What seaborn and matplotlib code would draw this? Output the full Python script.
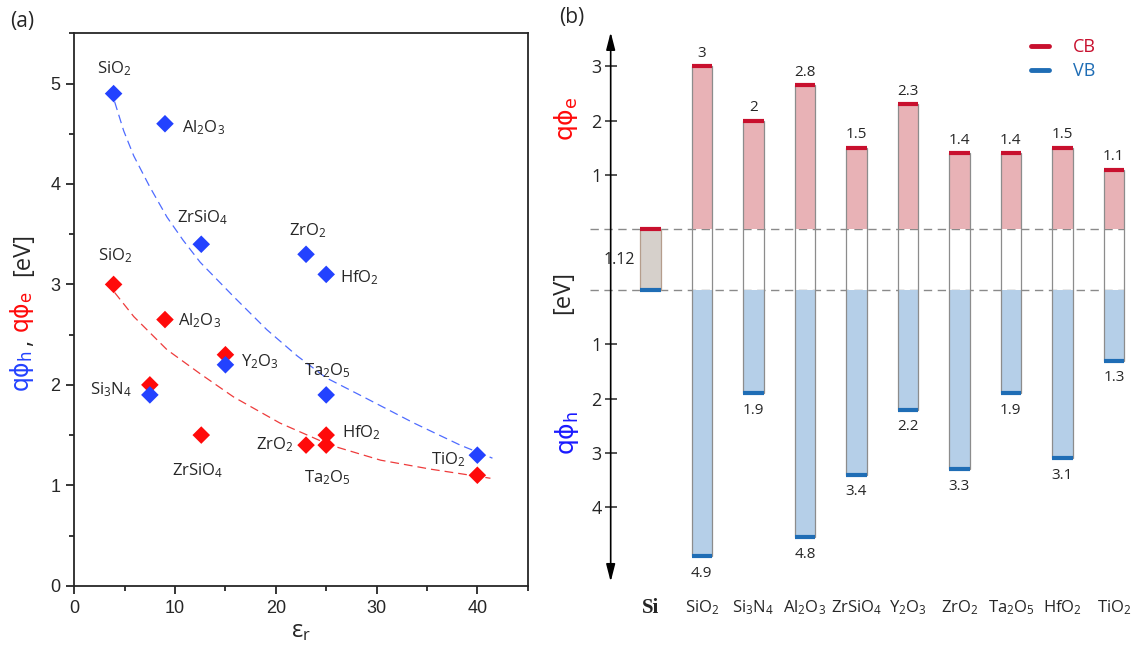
import re
import matplotlib
matplotlib.use('Agg')
import matplotlib.pyplot as plt
from matplotlib.lines import Line2D
from matplotlib.ticker import MultipleLocator
import numpy as np
import pandas as pd
import seaborn as sns

# ---- panel (a): barrier height vs dielectric constant ----
oxides_a = ['SiO2', 'Al2O3', 'ZrSiO4', 'ZrO2', 'HfO2', 'Y2O3', 'Si3N4', 'Ta2O5', 'TiO2']
eps_r = [3.9, 9.0, 12.6, 23.0, 25.0, 15.0, 7.5, 25.0, 40.0]
phi_h = [4.9, 4.6, 3.4, 3.3, 3.1, 2.2, 1.9, 1.9, 1.3]
phi_e = [3.0, 2.65, 1.5, 1.4, 1.5, 2.3, 2.0, 1.4, 1.1]

# dashed trend curves
fit_h_eps = [4.0, 4.9, 5.9, 7.5, 9.2, 10.8, 12.5, 15.8, 19.1, 22.1, 25.0, 28.7, 33.7, 38.3, 41.5]
fit_h_val = [4.82, 4.53, 4.28, 3.97, 3.67, 3.44, 3.22, 2.88, 2.55, 2.29, 2.07, 1.88, 1.62, 1.40, 1.27]
fit_e_eps = [4.0, 5.9, 9.2, 12.5, 15.8, 20.4, 25.4, 30.4, 35.4, 41.3]
fit_e_val = [2.92, 2.68, 2.35, 2.11, 1.88, 1.62, 1.40, 1.25, 1.16, 1.07]

# ---- panel (b): band offsets to Si ----
materials = ['Si', 'SiO2', 'Si3N4', 'Al2O3', 'ZrSiO4', 'Y2O3', 'ZrO2', 'Ta2O5', 'HfO2', 'TiO2']
si_gap = 1.12
cb_offset = [3.0, 2.0, 2.65, 1.5, 2.3, 1.4, 1.4, 1.5, 1.1]
cb_labels = ['3', '2', '2.8', '1.5', '2.3', '1.4', '1.4', '1.5', '1.1']
vb_offset = [4.9, 1.9, 4.55, 3.4, 2.2, 3.3, 1.9, 3.1, 1.3]
vb_labels = ['4.9', '1.9', '4.8', '3.4', '2.2', '3.3', '1.9', '3.1', '1.3']

BLUE = '#2342ff'
RED = '#ff0a0a'
CB_FILL, CB_LINE = '#e8b2b6', '#c8102e'
VB_FILL, VB_LINE = '#b5cfe8', '#1f6db5'
PHI_FONT = ['DejaVu Sans']


def chem(s):
    return re.sub(r'(\d)', r'$_\\mathregular{\1}$', s)


def qphi(sub):
    return 'qϕ$_\\mathregular{' + sub + '}$'


sns.set_style('ticks')
plt.rcParams['font.family'] = ['Open Sans', 'DejaVu Sans']
plt.rcParams['mathtext.fontset'] = 'custom'
plt.rcParams['mathtext.rm'] = 'Open Sans'
plt.rcParams['mathtext.it'] = 'Open Sans:italic'
plt.rcParams['mathtext.bf'] = 'Open Sans:bold'

fig = plt.figure(figsize=(11.43, 6.59), dpi=100)

# ================= (a) =================
ax = fig.add_axes([0.065, 0.1112, 0.3967, 0.8382])
df = pd.DataFrame({
    'eps': eps_r + eps_r,
    'phi': phi_e + phi_h,
    'kind': ['e'] * len(eps_r) + ['h'] * len(eps_r),
})
sns.lineplot(x=fit_h_eps, y=fit_h_val, ax=ax, color='#4f6cff', lw=0.9,
             linestyle=(0, (7, 4)), zorder=1)
sns.lineplot(x=fit_e_eps, y=fit_e_val, ax=ax, color='#ee3b3b', lw=0.9,
             linestyle=(0, (7, 4)), zorder=1)
sns.scatterplot(data=df, x='eps', y='phi', hue='kind', palette={'e': RED, 'h': BLUE},
                marker='D', s=80, linewidth=0, legend=False, ax=ax, zorder=3)

# label anchors (x, y, ha) for each point
lab_h = [(4.0, 5.15, 'center'), (10.7, 4.56, 'left'), (12.7, 3.66, 'center'),
         (23.2, 3.54, 'center'), (26.4, 3.07, 'left'), None, None,
         (25.1, 2.14, 'center'), (38.8, 1.26, 'right')]
lab_e = [(4.05, 3.29, 'center'), (10.3, 2.64, 'left'), (12.2, 1.15, 'center'),
         (21.8, 1.40, 'right'), (26.6, 1.52, 'left'), (16.5, 2.23, 'left'),
         (5.7, 1.95, 'right'), (25.1, 1.08, 'center'), None]
for name, lh, le in zip(oxides_a, lab_h, lab_e):
    for pos in (lh, le):
        if pos is not None:
            ax.text(pos[0], pos[1], chem(name), ha=pos[2], va='center', fontsize=12)

ax.set_xlim(0, 45)
ax.set_ylim(0, 5.5)
ax.xaxis.set_major_locator(MultipleLocator(10))
ax.xaxis.set_minor_locator(MultipleLocator(5))
ax.yaxis.set_major_locator(MultipleLocator(1))
ax.yaxis.set_minor_locator(MultipleLocator(0.5))
ax.tick_params(which='major', length=6, width=1.3, labelsize=13, pad=4)
ax.tick_params(which='minor', length=3.5, width=1.3)
for lab in ax.get_xticklabels() + ax.get_yticklabels():
    lab.set_family('Liberation Sans')
for sp in ax.spines.values():
    sp.set_linewidth(1.3)
ax.set_xlabel('ε$_\\mathregular{r}$', fontsize=17, labelpad=2)
ax.set_ylabel('')

# multi-coloured y label
fig.text(22 / 1143, 1 - 371 / 659, qphi('h'), color=BLUE, rotation=90, family=PHI_FONT,
         ha='center', va='center', fontsize=17)
fig.text(24 / 1143, 1 - 343 / 659, ',', rotation=90, ha='center', va='center', fontsize=17)
fig.text(22 / 1143, 1 - 312 / 659, qphi('e'), color=RED, rotation=90, family=PHI_FONT,
         ha='center', va='center', fontsize=17)
fig.text(23 / 1143, 1 - 254 / 659, '[eV]', rotation=90, ha='center', va='center', fontsize=17)

fig.text(22 / 1143, 1 - 21 / 659, '(a)', ha='center', va='center', fontsize=15)
fig.text(572 / 1143, 1 - 17 / 659, '(b)', ha='center', va='center', fontsize=15)

# ================= (b) =================
bx = fig.add_axes([0.5104, 0.1082, 0.4889, 0.8528])
xpos = np.arange(len(materials))
ox = xpos[1:]
w = 0.4
axis_x = -0.77

cb = np.array(cb_offset)
vb = np.array(vb_offset)

bx.bar(0, si_gap, bottom=-si_gap, width=w, color='#d6d0cb', edgecolor='#b59d8c', lw=0.9, zorder=2)
bx.hlines(0, -w / 2, w / 2, color=CB_LINE, lw=3, zorder=4)
bx.hlines(-si_gap, -w / 2, w / 2, color=VB_LINE, lw=3, zorder=4)
bx.text(-0.61, -si_gap / 2, f'{si_gap:.2f}', ha='center', va='center', fontsize=11.5)

bx.bar(ox, cb, width=w, color=CB_FILL, lw=0, zorder=2)
bx.bar(ox, -vb, bottom=-si_gap, width=w, color=VB_FILL, lw=0, zorder=2)
bx.bar(ox, cb + vb + si_gap, bottom=-si_gap - vb, width=w, facecolor='none',
       edgecolor='#8c8c8c', lw=0.9, zorder=3)
bx.hlines(cb, ox - w / 2, ox + w / 2, color=CB_LINE, lw=3, zorder=4)
bx.hlines(-si_gap - vb, ox - w / 2, ox + w / 2, color=VB_LINE, lw=3, zorder=4)

for xi, c, lab in zip(ox, cb, cb_labels):
    bx.text(xi, c + 0.24, lab, ha='center', va='center', fontsize=11)
for xi, v, lab in zip(ox, vb, vb_labels):
    bx.text(xi, -si_gap - v - 0.31, lab, ha='center', va='center', fontsize=11)

for y0 in (0, -si_gap):
    bx.plot([-1.18, 9.2], [y0, y0], color='#8a8a8a', lw=1, linestyle=(0, (6, 4)), zorder=1)

# category names
bx.text(0, -6.97, 'Si', ha='center', va='center', fontsize=15, fontweight='bold',
        family='Liberation Serif')
for xi, name in zip(ox, materials[1:]):
    bx.text(xi, -6.97, chem(name), ha='center', va='center', fontsize=12)

# vertical double arrow axis
bx.annotate('', xy=(axis_x, 3.63), xytext=(axis_x, -6.49),
            arrowprops=dict(arrowstyle='<|-|>,head_length=0.7,head_width=0.18',
                            color='black', lw=1.2, shrinkA=0, shrinkB=0, mutation_scale=15))
for sp in bx.spines.values():
    sp.set_visible(False)
bx.spines['left'].set_position(('data', axis_x))
up_ticks = [1, 2, 3]
down_ticks = [1, 2, 3, 4]
bx.set_yticks(up_ticks + [-si_gap - t for t in down_ticks])
bx.set_yticklabels([str(t) for t in up_ticks + down_ticks])
bx.tick_params(axis='y', direction='inout', length=9, width=1.1, labelsize=13, pad=2)
bx.set_xticks([])
bx.set_xlim(-1.3, 9.55)
bx.set_ylim(-6.6, 3.75)

fig.text(566 / 1143, 1 - 119 / 659, qphi('e'), color=RED, rotation=90, family=PHI_FONT,
         ha='center', va='center', fontsize=18)
fig.text(563 / 1143, 1 - 293 / 659, '[eV]', rotation=90, ha='center', va='center', fontsize=17)
fig.text(567 / 1143, 1 - 433 / 659, qphi('h'), color='#1a1aff', rotation=90, family=PHI_FONT,
         ha='center', va='center', fontsize=18)

handles = [Line2D([], [], color=CB_LINE, lw=3.5), Line2D([], [], color=VB_LINE, lw=3.5)]
bx.legend(handles, ['CB', 'VB'], loc='upper left', bbox_to_anchor=(1022 / 1143, 1 - 29 / 659),
          bbox_transform=fig.transFigure, frameon=False, fontsize=13, handlelength=1.0,
          handletextpad=1.3, labelspacing=0.35, borderpad=0, labelcolor='linecolor')

fig.savefig('out.png', dpi=100)
